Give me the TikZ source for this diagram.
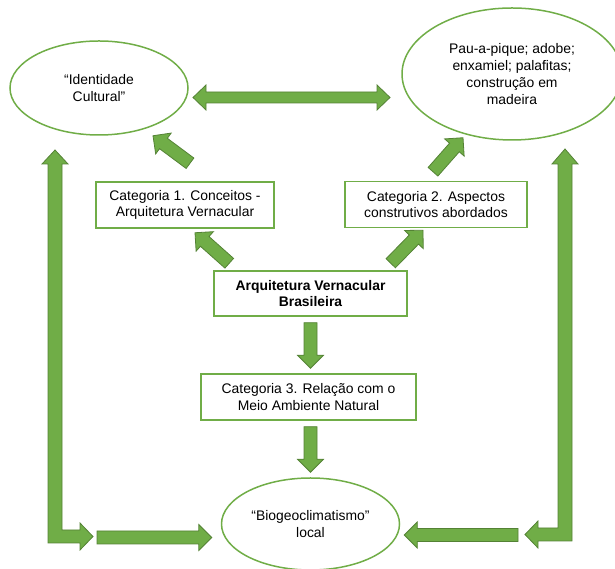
\documentclass[tikz,border=0pt]{standalone}
\usepackage{fontspec}
\setmainfont{Liberation Sans}
\usetikzlibrary{calc,shapes.geometric}
\definecolor{officegreen}{RGB}{112,173,71}
\definecolor{arrowedge}{RGB}{84,130,53}

\tikzset{
	labelfont/.style={font=\fontsize{13.9}{16.7}\selectfont},
	catbox/.style={draw=officegreen,line width=1.5pt,fill=white,align=center,minimum height=46pt,inner sep=2pt,labelfont},
	bubble/.style={ellipse,draw=officegreen,line width=1.5pt,align=center,inner sep=0pt,labelfont},
	fatarr/.style={fill=officegreen,draw=arrowedge,line width=0.8pt,line join=miter}
}
\newcommand{\fatarrow}[2]{%
	\draw[fatarr] let \p1=($(#2)-(#1)$), \n1={atan2(\y1,\x1)}, \n2={veclen(\x1,\y1)} in
		($(#1)+(\n1+90:6.5)$) -- ++(\n1:{\n2-13}) -- ++(\n1+90:6.5) -- (#2)
		-- ($(#2)+(\n1+180:13)+(\n1-90:13)$) -- ++(\n1+90:6.5)
		-- ($(#1)+(\n1-90:6.5)$) -- cycle;}

\begin{document}
\begin{tikzpicture}[x=1pt,y=1pt]
		\useasboundingbox (0,0) rectangle (615,569);
		\node[bubble,minimum width=178pt,minimum height=94pt] (ident) at (99,481) {“Identidade\\Cultural”};
		\node[bubble,minimum width=220pt,minimum height=132pt] (tecnicas) at (512,495) {Pau-a-pique; adobe;\\enxamiel; palafitas;\\construção em\\madeira};
		\node[bubble,minimum width=178pt,minimum height=92pt] (biogeo) at (310.5,45) {“Biogeoclimatismo”\\local};
		\node[catbox,minimum width=178pt] (cat1) at (185,364) {Categoria 1. Conceitos -\\Arquitetura Vernacular};
		\node[catbox,minimum width=182pt] (cat2) at (436,364.5) {Categoria 2. Aspectos\\construtivos abordados};
		\node[catbox,minimum width=193pt,minimum height=45pt] (arqv) at (310.5,275.5) {\bfseries Arquitetura Vernacular\\\bfseries Brasileira};
		\node[catbox,minimum width=215pt] (cat3) at (308.5,172) {Categoria 3. Relação com o\\Meio Ambiente Natural};

		\coordinate (a1s) at ([shift={(16,7)}]arqv.north west);
		\coordinate (a1e) at ([shift={(10,-4)}]cat1.south);
		\coordinate (a2s) at ([shift={(-17,7)}]arqv.north east);
		\coordinate (a2e) at ([shift={(-13,-2)}]cat2.south);
		\coordinate (b1s) at ([shift={(5,18)}]cat1.north);
		\coordinate (b1e) at ([shift={(54,0)}]ident.south);
		\coordinate (b2s) at ([shift={(-3,9)}]cat2.north);
		\coordinate (b2e) at ([shift={(-49,3)}]tecnicas.south);
		\coordinate (c1s) at ([yshift=-6]arqv.south);
		\coordinate (c1e) at ([yshift=5]cat3.north -| arqv.south);
		\coordinate (c2s) at ([yshift=-6]cat3.south -| arqv.south);
		\coordinate (c2e) at ([yshift=5]biogeo.north);
		\coordinate (d1s) at (97,31.5);
		\coordinate (d1e) at ([shift={(-9,-13.5)}]biogeo.west);
		\coordinate (d2s) at (518,34);
		\coordinate (d2e) at ([shift={(4,-11)}]biogeo.east);
		\coordinate (dl) at (193,471.5);
		\coordinate (dr) at (390,471.5);

		\fatarrow{a1s}{a1e}
		\fatarrow{a2s}{a2e}
		\fatarrow{b1s}{b1e}
		\fatarrow{b2s}{b2e}
		\fatarrow{c1s}{c1e}
		\fatarrow{c2s}{c2e}
		\fatarrow{d1s}{d1e}
		\fatarrow{d2s}{d2e}
		\draw[fatarr] (dl) -- ++(13,12.5) -- ++(0,-7) -- ($(dr)+(-13,5.5)$) -- ++(0,7) -- (dr)
			-- ++(-13,-12.5) -- ++(0,7) -- ($(dl)+(13,-5.5)$) -- ++(0,-7) -- cycle;
		\draw[fatarr] (55,419) -- (68,405) -- (62,405) -- (62,39) -- (80,39) -- (80,46) -- (93,32.5)
			-- (80,19) -- (80,26) -- (48,26) -- (48,405) -- (42,405) -- cycle;
		\draw[fatarr] (565,420) -- (578,405) -- (572,405) -- (572,28) -- (538,28) -- (538,21) -- (525,34.5)
			-- (538,48) -- (538,41) -- (558,41) -- (558,405) -- (552,405) -- cycle;
\end{tikzpicture}
\end{document}
